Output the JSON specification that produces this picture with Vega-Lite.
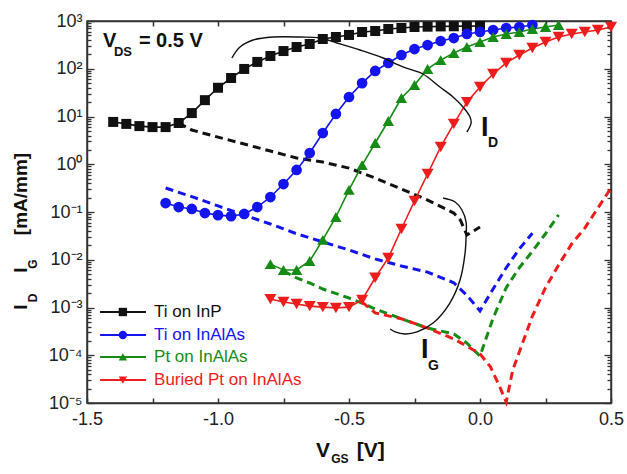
{
  "$schema": "https://vega.github.io/schema/vega-lite/v6.json",
  "autosize": {"type": "none"},
  "padding": {"left": 87, "top": 21, "right": 16, "bottom": 71},
  "width": 524,
  "height": 382,
  "background": "white",
  "config": {"view": {"stroke": "#333333", "strokeWidth": 1.5}},
  "datasets": {
    "curves": [
      {"series": "Ti on InP", "kind": "ID", "v": -1.40, "i": 7.7},
      {"series": "Ti on InP", "kind": "ID", "v": -1.35, "i": 7.0},
      {"series": "Ti on InP", "kind": "ID", "v": -1.30, "i": 6.3},
      {"series": "Ti on InP", "kind": "ID", "v": -1.25, "i": 6.0},
      {"series": "Ti on InP", "kind": "ID", "v": -1.20, "i": 6.0},
      {"series": "Ti on InP", "kind": "ID", "v": -1.15, "i": 7.3},
      {"series": "Ti on InP", "kind": "ID", "v": -1.10, "i": 11.8},
      {"series": "Ti on InP", "kind": "ID", "v": -1.05, "i": 22},
      {"series": "Ti on InP", "kind": "ID", "v": -1.00, "i": 40},
      {"series": "Ti on InP", "kind": "ID", "v": -0.95, "i": 64},
      {"series": "Ti on InP", "kind": "ID", "v": -0.90, "i": 99},
      {"series": "Ti on InP", "kind": "ID", "v": -0.85, "i": 139},
      {"series": "Ti on InP", "kind": "ID", "v": -0.80, "i": 185},
      {"series": "Ti on InP", "kind": "ID", "v": -0.75, "i": 235},
      {"series": "Ti on InP", "kind": "ID", "v": -0.70, "i": 285},
      {"series": "Ti on InP", "kind": "ID", "v": -0.65, "i": 330},
      {"series": "Ti on InP", "kind": "ID", "v": -0.60, "i": 420},
      {"series": "Ti on InP", "kind": "ID", "v": -0.55, "i": 462},
      {"series": "Ti on InP", "kind": "ID", "v": -0.50, "i": 510},
      {"series": "Ti on InP", "kind": "ID", "v": -0.45, "i": 589},
      {"series": "Ti on InP", "kind": "ID", "v": -0.40, "i": 618},
      {"series": "Ti on InP", "kind": "ID", "v": -0.35, "i": 680},
      {"series": "Ti on InP", "kind": "ID", "v": -0.30, "i": 713},
      {"series": "Ti on InP", "kind": "ID", "v": -0.25, "i": 748},
      {"series": "Ti on InP", "kind": "ID", "v": -0.20, "i": 760},
      {"series": "Ti on InP", "kind": "ID", "v": -0.15, "i": 770},
      {"series": "Ti on InP", "kind": "ID", "v": -0.10, "i": 775},
      {"series": "Ti on InP", "kind": "ID", "v": -0.05, "i": 780},
      {"series": "Ti on InP", "kind": "ID", "v": 0.00, "i": 785},

      {"series": "Ti on InAlAs", "kind": "ID", "v": -1.20, "i": 0.154},
      {"series": "Ti on InAlAs", "kind": "ID", "v": -1.15, "i": 0.127},
      {"series": "Ti on InAlAs", "kind": "ID", "v": -1.10, "i": 0.116},
      {"series": "Ti on InAlAs", "kind": "ID", "v": -1.05, "i": 0.095},
      {"series": "Ti on InAlAs", "kind": "ID", "v": -1.00, "i": 0.086},
      {"series": "Ti on InAlAs", "kind": "ID", "v": -0.95, "i": 0.082},
      {"series": "Ti on InAlAs", "kind": "ID", "v": -0.90, "i": 0.091},
      {"series": "Ti on InAlAs", "kind": "ID", "v": -0.85, "i": 0.127},
      {"series": "Ti on InAlAs", "kind": "ID", "v": -0.80, "i": 0.206},
      {"series": "Ti on InAlAs", "kind": "ID", "v": -0.75, "i": 0.385},
      {"series": "Ti on InAlAs", "kind": "ID", "v": -0.70, "i": 0.76},
      {"series": "Ti on InAlAs", "kind": "ID", "v": -0.65, "i": 1.72},
      {"series": "Ti on InAlAs", "kind": "ID", "v": -0.60, "i": 4.5},
      {"series": "Ti on InAlAs", "kind": "ID", "v": -0.55, "i": 11.3},
      {"series": "Ti on InAlAs", "kind": "ID", "v": -0.50, "i": 25.6},
      {"series": "Ti on InAlAs", "kind": "ID", "v": -0.45, "i": 50},
      {"series": "Ti on InAlAs", "kind": "ID", "v": -0.40, "i": 90},
      {"series": "Ti on InAlAs", "kind": "ID", "v": -0.35, "i": 132},
      {"series": "Ti on InAlAs", "kind": "ID", "v": -0.30, "i": 194},
      {"series": "Ti on InAlAs", "kind": "ID", "v": -0.25, "i": 259},
      {"series": "Ti on InAlAs", "kind": "ID", "v": -0.20, "i": 314},
      {"series": "Ti on InAlAs", "kind": "ID", "v": -0.15, "i": 381},
      {"series": "Ti on InAlAs", "kind": "ID", "v": -0.10, "i": 440},
      {"series": "Ti on InAlAs", "kind": "ID", "v": -0.05, "i": 535},
      {"series": "Ti on InAlAs", "kind": "ID", "v": 0.00, "i": 589},
      {"series": "Ti on InAlAs", "kind": "ID", "v": 0.05, "i": 648},
      {"series": "Ti on InAlAs", "kind": "ID", "v": 0.10, "i": 713},
      {"series": "Ti on InAlAs", "kind": "ID", "v": 0.15, "i": 748},
      {"series": "Ti on InAlAs", "kind": "ID", "v": 0.20, "i": 824},

      {"series": "Pt on InAlAs", "kind": "ID", "v": -0.80, "i": 0.0081},
      {"series": "Pt on InAlAs", "kind": "ID", "v": -0.75, "i": 0.0061},
      {"series": "Pt on InAlAs", "kind": "ID", "v": -0.70, "i": 0.0061},
      {"series": "Pt on InAlAs", "kind": "ID", "v": -0.65, "i": 0.0094},
      {"series": "Pt on InAlAs", "kind": "ID", "v": -0.60, "i": 0.026},
      {"series": "Pt on InAlAs", "kind": "ID", "v": -0.55, "i": 0.0786},
      {"series": "Pt on InAlAs", "kind": "ID", "v": -0.50, "i": 0.29},
      {"series": "Pt on InAlAs", "kind": "ID", "v": -0.45, "i": 0.96},
      {"series": "Pt on InAlAs", "kind": "ID", "v": -0.40, "i": 2.79},
      {"series": "Pt on InAlAs", "kind": "ID", "v": -0.35, "i": 8.05},
      {"series": "Pt on InAlAs", "kind": "ID", "v": -0.30, "i": 24.4},
      {"series": "Pt on InAlAs", "kind": "ID", "v": -0.25, "i": 45.7},
      {"series": "Pt on InAlAs", "kind": "ID", "v": -0.20, "i": 99},
      {"series": "Pt on InAlAs", "kind": "ID", "v": -0.15, "i": 152},
      {"series": "Pt on InAlAs", "kind": "ID", "v": -0.10, "i": 214},
      {"series": "Pt on InAlAs", "kind": "ID", "v": -0.05, "i": 285},
      {"series": "Pt on InAlAs", "kind": "ID", "v": 0.00, "i": 363},
      {"series": "Pt on InAlAs", "kind": "ID", "v": 0.05, "i": 462},
      {"series": "Pt on InAlAs", "kind": "ID", "v": 0.10, "i": 535},
      {"series": "Pt on InAlAs", "kind": "ID", "v": 0.15, "i": 589},
      {"series": "Pt on InAlAs", "kind": "ID", "v": 0.20, "i": 681},
      {"series": "Pt on InAlAs", "kind": "ID", "v": 0.25, "i": 748},
      {"series": "Pt on InAlAs", "kind": "ID", "v": 0.30, "i": 824},

      {"series": "Buried Pt on InAlAs", "kind": "ID", "v": -0.80, "i": 0.0015},
      {"series": "Buried Pt on InAlAs", "kind": "ID", "v": -0.75, "i": 0.0013},
      {"series": "Buried Pt on InAlAs", "kind": "ID", "v": -0.70, "i": 0.00118},
      {"series": "Buried Pt on InAlAs", "kind": "ID", "v": -0.65, "i": 0.00107},
      {"series": "Buried Pt on InAlAs", "kind": "ID", "v": -0.60, "i": 0.00102},
      {"series": "Buried Pt on InAlAs", "kind": "ID", "v": -0.55, "i": 0.00098},
      {"series": "Buried Pt on InAlAs", "kind": "ID", "v": -0.50, "i": 0.00102},
      {"series": "Buried Pt on InAlAs", "kind": "ID", "v": -0.45, "i": 0.00144},
      {"series": "Buried Pt on InAlAs", "kind": "ID", "v": -0.40, "i": 0.0042},
      {"series": "Buried Pt on InAlAs", "kind": "ID", "v": -0.35, "i": 0.0109},
      {"series": "Buried Pt on InAlAs", "kind": "ID", "v": -0.30, "i": 0.044},
      {"series": "Buried Pt on InAlAs", "kind": "ID", "v": -0.25, "i": 0.17},
      {"series": "Buried Pt on InAlAs", "kind": "ID", "v": -0.20, "i": 0.625},
      {"series": "Buried Pt on InAlAs", "kind": "ID", "v": -0.15, "i": 2.3},
      {"series": "Buried Pt on InAlAs", "kind": "ID", "v": -0.10, "i": 7.0},
      {"series": "Buried Pt on InAlAs", "kind": "ID", "v": -0.05, "i": 20},
      {"series": "Buried Pt on InAlAs", "kind": "ID", "v": 0.00, "i": 41.5},
      {"series": "Buried Pt on InAlAs", "kind": "ID", "v": 0.05, "i": 77.6},
      {"series": "Buried Pt on InAlAs", "kind": "ID", "v": 0.10, "i": 132},
      {"series": "Buried Pt on InAlAs", "kind": "ID", "v": 0.15, "i": 194},
      {"series": "Buried Pt on InAlAs", "kind": "ID", "v": 0.20, "i": 272},
      {"series": "Buried Pt on InAlAs", "kind": "ID", "v": 0.25, "i": 363},
      {"series": "Buried Pt on InAlAs", "kind": "ID", "v": 0.30, "i": 462},
      {"series": "Buried Pt on InAlAs", "kind": "ID", "v": 0.35, "i": 535},
      {"series": "Buried Pt on InAlAs", "kind": "ID", "v": 0.40, "i": 589},
      {"series": "Buried Pt on InAlAs", "kind": "ID", "v": 0.45, "i": 648},
      {"series": "Buried Pt on InAlAs", "kind": "ID", "v": 0.50, "i": 748},

      {"series": "Ti on InP", "kind": "IG", "v": -1.15, "i": 7.3},
      {"series": "Ti on InP", "kind": "IG", "v": -1.10, "i": 5.2},
      {"series": "Ti on InP", "kind": "IG", "v": -1.00, "i": 3.7},
      {"series": "Ti on InP", "kind": "IG", "v": -0.90, "i": 2.65},
      {"series": "Ti on InP", "kind": "IG", "v": -0.80, "i": 1.89},
      {"series": "Ti on InP", "kind": "IG", "v": -0.70, "i": 1.35},
      {"series": "Ti on InP", "kind": "IG", "v": -0.60, "i": 1.11},
      {"series": "Ti on InP", "kind": "IG", "v": -0.50, "i": 0.83},
      {"series": "Ti on InP", "kind": "IG", "v": -0.40, "i": 0.515},
      {"series": "Ti on InP", "kind": "IG", "v": -0.30, "i": 0.303},
      {"series": "Ti on InP", "kind": "IG", "v": -0.20, "i": 0.178},
      {"series": "Ti on InP", "kind": "IG", "v": -0.10, "i": 0.095},
      {"series": "Ti on InP", "kind": "IG", "v": -0.075, "i": 0.068},
      {"series": "Ti on InP", "kind": "IG", "v": -0.05, "i": 0.033},
      {"series": "Ti on InP", "kind": "IG", "v": 0.00, "i": 0.0485},

      {"series": "Ti on InAlAs", "kind": "IG", "v": -1.20, "i": 0.318},
      {"series": "Ti on InAlAs", "kind": "IG", "v": -1.10, "i": 0.21},
      {"series": "Ti on InAlAs", "kind": "IG", "v": -1.00, "i": 0.134},
      {"series": "Ti on InAlAs", "kind": "IG", "v": -0.90, "i": 0.086},
      {"series": "Ti on InAlAs", "kind": "IG", "v": -0.80, "i": 0.056},
      {"series": "Ti on InAlAs", "kind": "IG", "v": -0.70, "i": 0.035},
      {"series": "Ti on InAlAs", "kind": "IG", "v": -0.60, "i": 0.0236},
      {"series": "Ti on InAlAs", "kind": "IG", "v": -0.50, "i": 0.016},
      {"series": "Ti on InAlAs", "kind": "IG", "v": -0.40, "i": 0.0104},
      {"series": "Ti on InAlAs", "kind": "IG", "v": -0.30, "i": 0.0074},
      {"series": "Ti on InAlAs", "kind": "IG", "v": -0.20, "i": 0.0055},
      {"series": "Ti on InAlAs", "kind": "IG", "v": -0.10, "i": 0.0033},
      {"series": "Ti on InAlAs", "kind": "IG", "v": -0.05, "i": 0.0018},
      {"series": "Ti on InAlAs", "kind": "IG", "v": 0.00, "i": 0.00085},
      {"series": "Ti on InAlAs", "kind": "IG", "v": 0.05, "i": 0.00245},
      {"series": "Ti on InAlAs", "kind": "IG", "v": 0.10, "i": 0.0068},
      {"series": "Ti on InAlAs", "kind": "IG", "v": 0.15, "i": 0.0168},
      {"series": "Ti on InAlAs", "kind": "IG", "v": 0.20, "i": 0.036},

      {"series": "Pt on InAlAs", "kind": "IG", "v": -0.75, "i": 0.0058},
      {"series": "Pt on InAlAs", "kind": "IG", "v": -0.70, "i": 0.00415},
      {"series": "Pt on InAlAs", "kind": "IG", "v": -0.65, "i": 0.00326},
      {"series": "Pt on InAlAs", "kind": "IG", "v": -0.60, "i": 0.00244},
      {"series": "Pt on InAlAs", "kind": "IG", "v": -0.50, "i": 0.00158},
      {"series": "Pt on InAlAs", "kind": "IG", "v": -0.45, "i": 0.00124},
      {"series": "Pt on InAlAs", "kind": "IG", "v": -0.40, "i": 0.00093},
      {"series": "Pt on InAlAs", "kind": "IG", "v": -0.30, "i": 0.00058},
      {"series": "Pt on InAlAs", "kind": "IG", "v": -0.20, "i": 0.00037},
      {"series": "Pt on InAlAs", "kind": "IG", "v": -0.10, "i": 0.00028},
      {"series": "Pt on InAlAs", "kind": "IG", "v": -0.05, "i": 0.00018},
      {"series": "Pt on InAlAs", "kind": "IG", "v": 0.00, "i": 0.000096},
      {"series": "Pt on InAlAs", "kind": "IG", "v": 0.05, "i": 0.0006},
      {"series": "Pt on InAlAs", "kind": "IG", "v": 0.10, "i": 0.0026},
      {"series": "Pt on InAlAs", "kind": "IG", "v": 0.15, "i": 0.0068},
      {"series": "Pt on InAlAs", "kind": "IG", "v": 0.20, "i": 0.015},
      {"series": "Pt on InAlAs", "kind": "IG", "v": 0.25, "i": 0.035},
      {"series": "Pt on InAlAs", "kind": "IG", "v": 0.30, "i": 0.087},

      {"series": "Buried Pt on InAlAs", "kind": "IG", "v": -0.45, "i": 0.0013},
      {"series": "Buried Pt on InAlAs", "kind": "IG", "v": -0.40, "i": 0.00077},
      {"series": "Buried Pt on InAlAs", "kind": "IG", "v": -0.30, "i": 0.00058},
      {"series": "Buried Pt on InAlAs", "kind": "IG", "v": -0.20, "i": 0.00037},
      {"series": "Buried Pt on InAlAs", "kind": "IG", "v": -0.10, "i": 0.00022},
      {"series": "Buried Pt on InAlAs", "kind": "IG", "v": -0.05, "i": 0.000155},
      {"series": "Buried Pt on InAlAs", "kind": "IG", "v": 0.00, "i": 0.000107},
      {"series": "Buried Pt on InAlAs", "kind": "IG", "v": 0.04, "i": 0.000057},
      {"series": "Buried Pt on InAlAs", "kind": "IG", "v": 0.075, "i": 0.000022},
      {"series": "Buried Pt on InAlAs", "kind": "IG", "v": 0.10, "i": 0.0000105},
      {"series": "Buried Pt on InAlAs", "kind": "IG", "v": 0.125, "i": 0.000049},
      {"series": "Buried Pt on InAlAs", "kind": "IG", "v": 0.15, "i": 0.000117},
      {"series": "Buried Pt on InAlAs", "kind": "IG", "v": 0.20, "i": 0.00066},
      {"series": "Buried Pt on InAlAs", "kind": "IG", "v": 0.25, "i": 0.0026},
      {"series": "Buried Pt on InAlAs", "kind": "IG", "v": 0.30, "i": 0.0078},
      {"series": "Buried Pt on InAlAs", "kind": "IG", "v": 0.35, "i": 0.0214},
      {"series": "Buried Pt on InAlAs", "kind": "IG", "v": 0.40, "i": 0.046},
      {"series": "Buried Pt on InAlAs", "kind": "IG", "v": 0.45, "i": 0.121},
      {"series": "Buried Pt on InAlAs", "kind": "IG", "v": 0.50, "i": 0.318}
    ],
    "arcs": [
      {"arc": "ID", "ord": 1, "v": -0.947, "i": 168},
      {"arc": "ID", "ord": 2, "v": -0.916, "i": 285},
      {"arc": "ID", "ord": 3, "v": -0.866, "i": 400},
      {"arc": "ID", "ord": 4, "v": -0.790, "i": 462},
      {"arc": "ID", "ord": 5, "v": -0.687, "i": 462},
      {"arc": "ID", "ord": 6, "v": -0.611, "i": 440},
      {"arc": "ID", "ord": 7, "v": -0.546, "i": 346},
      {"arc": "ID", "ord": 8, "v": -0.458, "i": 247},
      {"arc": "ID", "ord": 9, "v": -0.370, "i": 168},
      {"arc": "ID", "ord": 10, "v": -0.294, "i": 109},
      {"arc": "ID", "ord": 11, "v": -0.218, "i": 77.6},
      {"arc": "ID", "ord": 12, "v": -0.153, "i": 41.5},
      {"arc": "ID", "ord": 13, "v": -0.103, "i": 25.6},
      {"arc": "ID", "ord": 14, "v": -0.065, "i": 15.8},
      {"arc": "ID", "ord": 15, "v": -0.038, "i": 9.77},
      {"arc": "ID", "ord": 16, "v": -0.034, "i": 7.3},
      {"arc": "ID", "ord": 17, "v": -0.050, "i": 4.7},
      {"arc": "IG", "ord": 1, "v": -0.141, "i": 0.196},
      {"arc": "IG", "ord": 2, "v": -0.095, "i": 0.162},
      {"arc": "IG", "ord": 3, "v": -0.069, "i": 0.110},
      {"arc": "IG", "ord": 4, "v": -0.053, "i": 0.0617},
      {"arc": "IG", "ord": 5, "v": -0.053, "i": 0.0331},
      {"arc": "IG", "ord": 6, "v": -0.057, "i": 0.0138},
      {"arc": "IG", "ord": 7, "v": -0.076, "i": 0.0038},
      {"arc": "IG", "ord": 8, "v": -0.115, "i": 0.00124},
      {"arc": "IG", "ord": 9, "v": -0.179, "i": 0.000473},
      {"arc": "IG", "ord": 10, "v": -0.240, "i": 0.000309},
      {"arc": "IG", "ord": 11, "v": -0.286, "i": 0.000279},
      {"arc": "IG", "ord": 12, "v": -0.324, "i": 0.000309},
      {"arc": "IG", "ord": 13, "v": -0.343, "i": 0.000355}
    ],
    "notes": [
      {"text": "V", "v": -1.439, "i": 285, "role": "vds"},
      {"text": "DS", "v": -1.397, "i": 185, "role": "vdssub"},
      {"text": "= 0.5 V", "v": -1.302, "i": 285, "role": "vds"},
      {"text": "I", "v": 0.004, "i": 3.9, "role": "big"},
      {"text": "D", "v": 0.031, "i": 2.3, "role": "bigsub"},
      {"text": "I", "v": -0.225, "i": 0.0000875, "role": "big"},
      {"text": "G", "v": -0.198, "i": 0.000049, "role": "bigsub"},
      {"text": "V", "v": -0.626, "i": 0.00000074, "role": "title"},
      {"text": "GS", "v": -0.568, "i": 0.000000553, "role": "titlesub"},
      {"text": "[V]", "v": -0.47, "i": 0.00000074, "role": "title"},
      {"text": "I", "v": -1.729, "i": 0.00102, "role": "ytitle"},
      {"text": "D", "v": -1.691, "i": 0.00158, "role": "ytitlesub"},
      {"text": "I", "v": -1.729, "i": 0.0061, "role": "ytitle"},
      {"text": "G", "v": -1.691, "i": 0.00815, "role": "ytitlesub"},
      {"text": "[mA/mm]", "v": -1.729, "i": 0.238, "role": "ytitle"}
    ],
    "legend": [
      {"series": "Ti on InP", "ly": 0.000805},
      {"series": "Ti on InAlAs", "ly": 0.000265},
      {"series": "Pt on InAlAs", "ly": 0.000092},
      {"series": "Buried Pt on InAlAs", "ly": 0.0000303}
    ]
  },
  "layer": [
    {
      "data": {"name": "curves"},
      "transform": [{"filter": "datum.kind === 'IG'"}],
      "mark": {"type": "line", "strokeDash": [8, 5], "strokeWidth": 3},
      "encoding": {
        "x": {
          "field": "v", "type": "quantitative",
          "scale": {"domain": [-1.5, 0.5], "nice": false, "zero": false},
          "axis": {
            "orient": "bottom", "title": null, "grid": false,
            "values": [-1.5, -1.25, -1, -0.75, -0.5, -0.25, 0, 0.25, 0.5],
            "labelExpr": "abs(datum.value * 2 - round(datum.value * 2)) < 0.01 ? replace(format(datum.value, '.1f'), '−', '-') : ''",
            "tickSize": -5, "tickWidth": 1.5, "tickColor": "#333333",
            "domainColor": "#333333", "domainWidth": 1.5,
            "labelFont": "Liberation Sans", "labelFontSize": 18, "labelColor": "#222222",
            "labelPadding": 12, "labelFlush": false, "labelOverlap": false
          }
        },
        "y": {
          "field": "i", "type": "quantitative",
          "scale": {"type": "log", "domain": [0.00001, 1000], "nice": false},
          "axis": {
            "orient": "left", "title": null, "grid": false,
            "values": [0.00001, 0.00002, 0.00003, 0.00004, 0.00005, 0.00006, 0.00007, 0.00008, 0.00009,
                       0.0001, 0.0002, 0.0003, 0.0004, 0.0005, 0.0006, 0.0007, 0.0008, 0.0009,
                       0.001, 0.002, 0.003, 0.004, 0.005, 0.006, 0.007, 0.008, 0.009,
                       0.01, 0.02, 0.03, 0.04, 0.05, 0.06, 0.07, 0.08, 0.09,
                       0.1, 0.2, 0.3, 0.4, 0.5, 0.6, 0.7, 0.8, 0.9,
                       1, 2, 3, 4, 5, 6, 7, 8, 9,
                       10, 20, 30, 40, 50, 60, 70, 80, 90,
                       100, 200, 300, 400, 500, 600, 700, 800, 900, 1000],
            "labelExpr": "abs(log(datum.value)/LN10 - round(log(datum.value)/LN10)) < 0.01 ? ['10⁻⁵','10⁻⁴','10⁻³','10⁻²','10⁻¹','10⁰','10¹','10²','10³'][round(log(datum.value)/LN10) + 5] : ''",
            "tickSize": {"condition": {"test": "abs(log(datum.value)/LN10 - round(log(datum.value)/LN10)) < 0.01", "value": -7}, "value": -4},
            "tickWidth": 1.3, "tickColor": "#333333",
            "domainColor": "#333333", "domainWidth": 1.5,
            "labelFont": "Liberation Sans", "labelFontSize": 18, "labelColor": "#222222",
            "labelPadding": 12, "labelOverlap": false, "labelFlush": false
          }
        },
        "color": {
          "field": "series", "type": "nominal",
          "scale": {"domain": ["Ti on InP", "Ti on InAlAs", "Pt on InAlAs", "Buried Pt on InAlAs"],
                    "range": ["#111111", "#1414f0", "#168c16", "#ee1c1c"]},
          "legend": null
        }
      }
    },
    {
      "data": {"name": "curves"},
      "transform": [{"filter": "datum.kind === 'ID'"}],
      "mark": {"type": "line", "strokeWidth": 1.6},
      "encoding": {
        "x": {"field": "v", "type": "quantitative", "axis": null},
        "y": {"field": "i", "type": "quantitative", "scale": {"type": "log"}, "axis": null},
        "color": {"field": "series", "type": "nominal", "legend": null}
      }
    },
    {
      "data": {"name": "curves"},
      "transform": [{"filter": "datum.kind === 'ID'"}],
      "mark": {"type": "point", "filled": true, "opacity": 1, "strokeWidth": 0},
      "encoding": {
        "x": {"field": "v", "type": "quantitative", "axis": null},
        "y": {"field": "i", "type": "quantitative", "scale": {"type": "log"}, "axis": null},
        "color": {"field": "series", "type": "nominal", "legend": null},
        "shape": {
          "field": "series", "type": "nominal",
          "scale": {"domain": ["Ti on InP", "Ti on InAlAs", "Pt on InAlAs", "Buried Pt on InAlAs"],
                    "range": ["square", "circle", "triangle-up", "triangle-down"]},
          "legend": null
        },
        "size": {
          "field": "series", "type": "nominal",
          "scale": {"domain": ["Ti on InP", "Ti on InAlAs", "Pt on InAlAs", "Buried Pt on InAlAs"],
                    "range": [100, 145, 175, 175]},
          "legend": null
        }
      }
    },
    {
      "data": {"name": "arcs"},
      "mark": {"type": "line", "color": "#111111", "strokeWidth": 1.4, "interpolate": "catmull-rom"},
      "encoding": {
        "x": {"field": "v", "type": "quantitative", "axis": null},
        "y": {"field": "i", "type": "quantitative", "scale": {"type": "log"}, "axis": null},
        "detail": {"field": "arc", "type": "nominal"},
        "order": {"field": "ord", "type": "quantitative"}
      }
    },
    {
      "data": {"name": "legend"},
      "mark": {"type": "rule", "strokeWidth": 2},
      "encoding": {
        "x": {"datum": -1.45, "type": "quantitative", "axis": null},
        "x2": {"datum": -1.275},
        "y": {"field": "ly", "type": "quantitative", "scale": {"type": "log"}, "axis": null},
        "color": {"field": "series", "type": "nominal", "legend": null}
      }
    },
    {
      "data": {"name": "legend"},
      "mark": {"type": "point", "filled": true, "opacity": 1, "strokeWidth": 0},
      "encoding": {
        "x": {"datum": -1.363, "type": "quantitative", "axis": null},
        "y": {"field": "ly", "type": "quantitative", "scale": {"type": "log"}, "axis": null},
        "color": {"field": "series", "type": "nominal", "legend": null},
        "shape": {"field": "series", "type": "nominal", "legend": null},
        "size": {"value": 70}
      }
    },
    {
      "data": {"name": "legend"},
      "mark": {"type": "text", "align": "left", "baseline": "middle", "font": "Liberation Sans", "fontSize": 17},
      "encoding": {
        "x": {"datum": -1.244, "type": "quantitative", "axis": null},
        "y": {"field": "ly", "type": "quantitative", "scale": {"type": "log"}, "axis": null},
        "color": {"field": "series", "type": "nominal", "legend": null},
        "text": {"field": "series"}
      }
    },
    {
      "data": {"name": "notes"},
      "transform": [{"filter": "datum.role === 'vds'"}],
      "mark": {"type": "text", "align": "left", "baseline": "alphabetic", "font": "Liberation Sans", "fontWeight": "bold", "fontSize": 20, "color": "#111111"},
      "encoding": {
        "x": {"field": "v", "type": "quantitative", "axis": null},
        "y": {"field": "i", "type": "quantitative", "scale": {"type": "log"}, "axis": null},
        "text": {"field": "text"}
      }
    },
    {
      "data": {"name": "notes"},
      "transform": [{"filter": "datum.role === 'vdssub'"}],
      "mark": {"type": "text", "align": "left", "baseline": "alphabetic", "font": "Liberation Sans", "fontWeight": "bold", "fontSize": 13, "color": "#111111"},
      "encoding": {
        "x": {"field": "v", "type": "quantitative", "axis": null},
        "y": {"field": "i", "type": "quantitative", "scale": {"type": "log"}, "axis": null},
        "text": {"field": "text"}
      }
    },
    {
      "data": {"name": "notes"},
      "transform": [{"filter": "datum.role === 'big'"}],
      "mark": {"type": "text", "align": "left", "baseline": "alphabetic", "font": "Liberation Sans", "fontWeight": "bold", "fontSize": 27, "color": "#111111"},
      "encoding": {
        "x": {"field": "v", "type": "quantitative", "axis": null},
        "y": {"field": "i", "type": "quantitative", "scale": {"type": "log"}, "axis": null},
        "text": {"field": "text"}
      }
    },
    {
      "data": {"name": "notes"},
      "transform": [{"filter": "datum.role === 'bigsub'"}],
      "mark": {"type": "text", "align": "left", "baseline": "alphabetic", "font": "Liberation Sans", "fontWeight": "bold", "fontSize": 14, "color": "#111111"},
      "encoding": {
        "x": {"field": "v", "type": "quantitative", "axis": null},
        "y": {"field": "i", "type": "quantitative", "scale": {"type": "log"}, "axis": null},
        "text": {"field": "text"}
      }
    },
    {
      "data": {"name": "notes"},
      "transform": [{"filter": "datum.role === 'title'"}],
      "mark": {"type": "text", "align": "left", "baseline": "alphabetic", "font": "Liberation Sans", "fontWeight": "bold", "fontSize": 21, "color": "#111111"},
      "encoding": {
        "x": {"field": "v", "type": "quantitative", "axis": null},
        "y": {"field": "i", "type": "quantitative", "scale": {"type": "log"}, "axis": null},
        "text": {"field": "text"}
      }
    },
    {
      "data": {"name": "notes"},
      "transform": [{"filter": "datum.role === 'titlesub'"}],
      "mark": {"type": "text", "align": "left", "baseline": "alphabetic", "font": "Liberation Sans", "fontWeight": "bold", "fontSize": 12, "color": "#111111"},
      "encoding": {
        "x": {"field": "v", "type": "quantitative", "axis": null},
        "y": {"field": "i", "type": "quantitative", "scale": {"type": "log"}, "axis": null},
        "text": {"field": "text"}
      }
    },
    {
      "data": {"name": "notes"},
      "transform": [{"filter": "datum.role === 'ytitle'"}],
      "mark": {"type": "text", "align": "center", "baseline": "alphabetic", "angle": 270, "font": "Liberation Sans", "fontWeight": "bold", "fontSize": 19, "color": "#111111"},
      "encoding": {
        "x": {"field": "v", "type": "quantitative", "axis": null},
        "y": {"field": "i", "type": "quantitative", "scale": {"type": "log"}, "axis": null},
        "text": {"field": "text"}
      }
    },
    {
      "data": {"name": "notes"},
      "transform": [{"filter": "datum.role === 'ytitlesub'"}],
      "mark": {"type": "text", "align": "center", "baseline": "alphabetic", "angle": 270, "font": "Liberation Sans", "fontWeight": "bold", "fontSize": 12, "color": "#111111"},
      "encoding": {
        "x": {"field": "v", "type": "quantitative", "axis": null},
        "y": {"field": "i", "type": "quantitative", "scale": {"type": "log"}, "axis": null},
        "text": {"field": "text"}
      }
    },
    {
      "data": {"name": "curves"},
      "mark": {"type": "point", "opacity": 0},
      "encoding": {
        "x": {
          "field": "v", "type": "quantitative",
          "axis": {
            "orient": "top", "title": null, "grid": false, "labels": false,
            "values": [-1.5, -1.25, -1, -0.75, -0.5, -0.25, 0, 0.25, 0.5],
            "tickSize": -5, "tickWidth": 1.5, "tickColor": "#333333",
            "domainColor": "#333333", "domainWidth": 1.5
          }
        },
        "y": {
          "field": "i", "type": "quantitative",
          "scale": {"type": "log"},
          "axis": {
            "orient": "right", "title": null, "grid": false, "labels": false,
            "values": [0.00001, 0.00002, 0.00003, 0.00004, 0.00005, 0.00006, 0.00007, 0.00008, 0.00009,
                       0.0001, 0.0002, 0.0003, 0.0004, 0.0005, 0.0006, 0.0007, 0.0008, 0.0009,
                       0.001, 0.002, 0.003, 0.004, 0.005, 0.006, 0.007, 0.008, 0.009,
                       0.01, 0.02, 0.03, 0.04, 0.05, 0.06, 0.07, 0.08, 0.09,
                       0.1, 0.2, 0.3, 0.4, 0.5, 0.6, 0.7, 0.8, 0.9,
                       1, 2, 3, 4, 5, 6, 7, 8, 9,
                       10, 20, 30, 40, 50, 60, 70, 80, 90,
                       100, 200, 300, 400, 500, 600, 700, 800, 900, 1000],
            "tickSize": {"condition": {"test": "abs(log(datum.value)/LN10 - round(log(datum.value)/LN10)) < 0.01", "value": -7}, "value": -4},
            "tickWidth": 1.3, "tickColor": "#333333",
            "domainColor": "#333333", "domainWidth": 1.5
          }
        }
      }
    }
  ],
  "resolve": {"axis": {"x": "independent", "y": "independent"}}
}
